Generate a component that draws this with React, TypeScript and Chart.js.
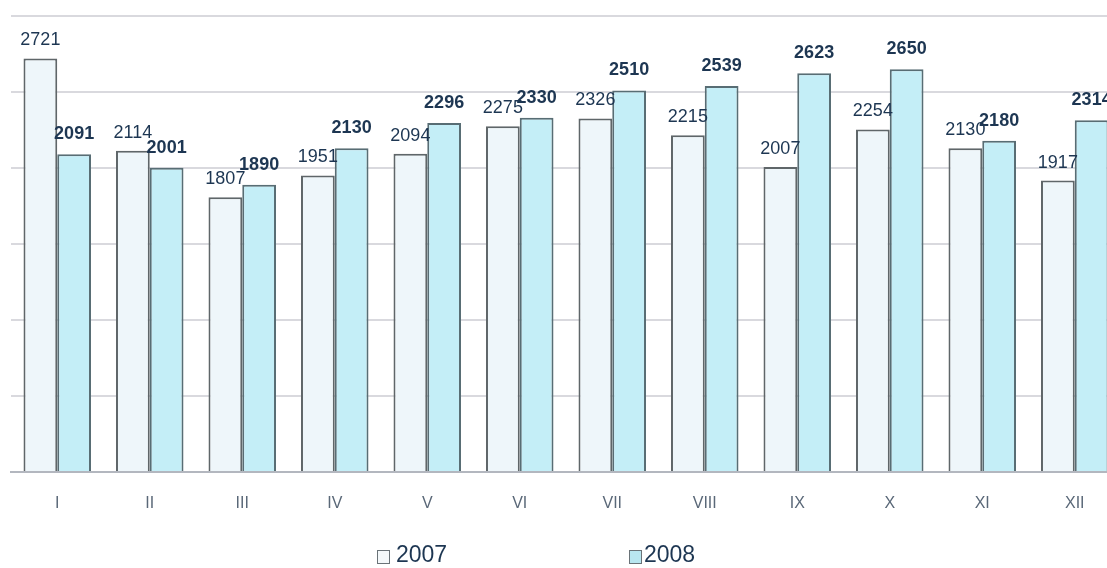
import React, { useEffect, useRef } from "react";
import { Chart, registerables } from "chart.js";

Chart.register(...registerables);

const months = ["I", "II", "III", "IV", "V", "VI", "VII", "VIII", "IX", "X", "XI", "XII"];
const values2007 = [2721, 2114, 1807, 1951, 2094, 2275, 2326, 2215, 2007, 2254, 2130, 1917];
const values2008 = [2091, 2001, 1890, 2130, 2296, 2330, 2510, 2539, 2623, 2650, 2180, 2314];
const seriesNames = ["2007", "2008"];
const yMax = 3000;
const yStep = 500;

const FONT = "'Liberation Sans', Arial, sans-serif";

const valueLabels = {
  id: "valueLabels",
  afterDatasetsDraw(chart: any) {
    const ctx = chart.ctx;
    ctx.save();
    ctx.textAlign = "center";
    ctx.textBaseline = "bottom";
    ctx.fillStyle = "#1d3652";
    chart.data.datasets.forEach((ds: any, di: number) => {
      const meta = chart.getDatasetMeta(di);
      ctx.font = (di === 1 ? "bold " : "") + "18px " + FONT;
      meta.data.forEach((bar: any, i: number) => {
        const off = di === 1 ? 11 : 9;
        ctx.fillText(String(ds.data[i]), bar.x, bar.y - off);
      });
    });
    ctx.restore();
  },
};

export default function App() {
  const ref = useRef<HTMLCanvasElement>(null);
  useEffect(() => {
    document.body.style.margin = "0";
    document.body.style.overflow = "hidden";
    const chart = new Chart(ref.current!, {
      type: "bar",
      data: {
        labels: months,
        datasets: [
          {
            label: seriesNames[0],
            data: values2007,
            backgroundColor: "#eef6fa",
            borderColor: "#5f6669",
            borderWidth: 2,
            categoryPercentage: 0.73,
            barPercentage: 1,
          },
          {
            label: seriesNames[1],
            data: values2008,
            backgroundColor: "#c4eef7",
            borderColor: "#586d74",
            borderWidth: 2,
            categoryPercentage: 0.73,
            barPercentage: 1,
          },
        ],
      },
      options: {
        animation: false,
        responsive: false,
        maintainAspectRatio: false,
        layout: { padding: { top: 16, left: 11, right: 0, bottom: 0 } },
        plugins: { legend: { display: false }, tooltip: { enabled: false } },
        scales: {
          x: {
            grid: { display: false, drawTicks: false },
            border: { display: true, color: "#b3b7bf", width: 2 },
            ticks: { color: "#5a6878", font: { size: 16, family: FONT }, padding: 22 },
            afterFit: (s: any) => {
              s.height = 96;
            },
          },
          y: {
            min: 0,
            max: yMax,
            ticks: { display: false, stepSize: yStep },
            grid: { color: "#d9d9de", lineWidth: 2, drawTicks: false },
            border: { display: false },
            afterFit: (s: any) => {
              s.width = 0;
            },
          },
        },
      },
      plugins: [valueLabels],
    });
    return () => chart.destroy();
  }, []);

  const legendText: React.CSSProperties = {
    position: "absolute",
    top: 541,
    fontFamily: FONT,
    fontSize: 23,
    color: "#1d3652",
    lineHeight: "26px",
  };
  const box = (bg: string, left: number): React.CSSProperties => ({
    position: "absolute",
    left,
    top: 550,
    width: 11,
    height: 12,
    background: bg,
    border: "1px solid #6a7378",
  });

  return (
    <div style={{ position: "relative", width: 1107, height: 568, overflow: "hidden", background: "#fff" }}>
      <canvas ref={ref} width={1121} height={568} style={{ position: "absolute", left: 0, top: 0 }} />
      <div style={box("#f4f8fa", 377)} />
      <div style={{ ...legendText, left: 396 }}>{seriesNames[0]}</div>
      <div style={box("#b9e6f0", 629)} />
      <div style={{ ...legendText, left: 644 }}>{seriesNames[1]}</div>
    </div>
  );
}
